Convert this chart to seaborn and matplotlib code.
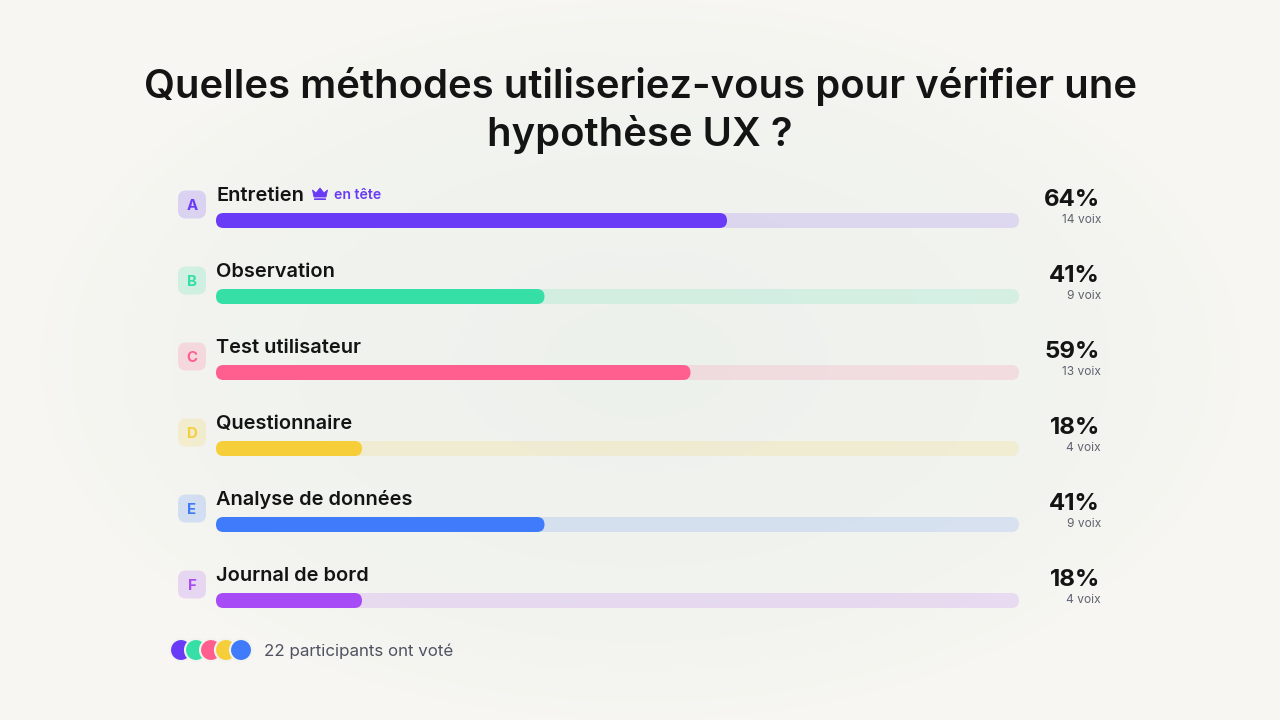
#!/usr/bin/env python3
"""Poll results: rounded horizontal bars with badges, on a soft background."""
import numpy as np
import pandas as pd
import seaborn as sns
import matplotlib
matplotlib.use("Agg")
import matplotlib.pyplot as plt
from matplotlib.patches import FancyBboxPatch, Circle, Polygon

title_lines = ["Quelles méthodes utiliseriez-vous pour vérifier une", "hypothèse UX ?"]
letters = ["A", "B", "C", "D", "E", "F"]
labels = ["Entretien", "Observation", "Test utilisateur", "Questionnaire", "Analyse de données", "Journal de bord"]
votes = [14, 9, 13, 4, 9, 4]
percents = ["64%", "41%", "59%", "18%", "41%", "18%"]
total = 22
colors = ["#6A3BF6", "#35DFA6", "#FF5F8F", "#F5CE3A", "#3F7BFA", "#A64BF5"]
footer = "22 participants ont voté"
leader = "en tête"

W, H = 1280, 720
ROW = 76
BAR_H = 15
FIRST_Y = 220.5

sns.set_theme(style="white")
plt.rcParams["font.family"] = ["Inter", "DejaVu Sans"]

fig = plt.figure(figsize=(W / 100, H / 100), dpi=100)

# background glow
bg_ax = fig.add_axes([0, 0, 1, 1], zorder=0)
yy, xx = np.mgrid[0:H, 0:W]
dist = np.sqrt(((xx - 640) / 600) ** 2 + ((yy - 360) / 360) ** 2)
glow = np.clip(1 - dist, 0, 1) ** 0.6
edge = np.array([247, 246, 242]) / 255
mid = np.array([237, 241, 236]) / 255
bg_ax.imshow(edge + (mid - edge) * glow[..., None], aspect="auto")
bg_ax.axis("off")

# bars
top = FIRST_Y - ROW / 2
ax = fig.add_axes([216 / W, 1 - (top + ROW * 6) / H, 803 / W, ROW * 6 / H], zorder=1)
df = pd.DataFrame({"label": labels, "votes": votes, "total": [total] * len(labels)})
sns.barplot(data=df, x="total", y="label", hue="label", palette=colors, alpha=0.15,
            saturation=1, width=BAR_H / ROW, legend=False, ax=ax)
sns.barplot(data=df, x="votes", y="label", hue="label", palette=colors,
            saturation=1, width=BAR_H / ROW, legend=False, ax=ax)
ax.set_xlim(0, total)
ax.set_ylim(5.5, -0.5)
ax.axis("off")
ax.patch.set_alpha(0)

# swap the square bars for rounded ones
px_x = 803 / total
for bar in list(ax.patches):
    rounded = FancyBboxPatch((bar.get_x(), bar.get_y()), bar.get_width(), bar.get_height(),
                             boxstyle=f"round,pad=0,rounding_size={(BAR_H / 2) / px_x}",
                             mutation_aspect=px_x / ROW, facecolor=bar.get_facecolor(),
                             edgecolor="none", linewidth=0)
    bar.remove()
    ax.add_patch(rounded)

# everything else in pixel coordinates
ov = fig.add_axes([0, 0, 1, 1], zorder=2)
ov.set_xlim(0, W)
ov.set_ylim(H, 0)
ov.axis("off")
ov.patch.set_alpha(0)

for y, line in zip([98, 146], title_lines):
    ov.text(640, y, line, ha="center", va="baseline", fontsize=28.8, fontweight=600, color="#141414")

for i, lab in enumerate(labels):
    dy = ROW * i
    ov.add_patch(FancyBboxPatch((178, 190.5 + dy), 28, 28, boxstyle="round,pad=0,rounding_size=8",
                                facecolor=colors[i], alpha=0.18, edgecolor="none"))
    ov.text(192, 210 + dy, letters[i], ha="center", va="baseline", fontsize=10.8, fontweight=700, color=colors[i])
    ov.text(216, 201 + dy, lab, ha="left", va="baseline", fontsize=14.4, fontweight=600, color="#141414")
    ov.text(1100, 206 + dy, percents[i], ha="right", va="baseline", fontsize=17.3, fontweight=700, color="#141414")
    ov.text(1101, 223 + dy, f"{votes[i]} voix", ha="right", va="baseline", fontsize=8.6, color="#5F6270")

# crown next to the leader
crown = [(312.5, 190), (316, 193), (320, 188), (324, 193), (327.5, 190), (326, 197), (314, 197)]
ov.add_patch(Polygon(crown, closed=True, facecolor=colors[0], edgecolor=colors[0], linewidth=0.6, joinstyle="round"))
ov.add_patch(FancyBboxPatch((314, 198.3), 12, 1.7, boxstyle="round,pad=0,rounding_size=0.6",
                            facecolor=colors[0], edgecolor="none"))
ov.text(334, 199, leader, ha="left", va="baseline", fontsize=10.1, fontweight=600, color=colors[0])

# footer avatars
for j, c in enumerate(colors[:3] + [colors[3], colors[4]]):
    ov.add_patch(Circle((181 + 15 * j, 650), 11, facecolor=c, edgecolor="#F2F3EF", linewidth=1.5, zorder=3 + j))
ov.text(264, 656, footer, ha="left", va="baseline", fontsize=12.2, color="#4F5261")

fig.savefig("out.png", dpi=100)
